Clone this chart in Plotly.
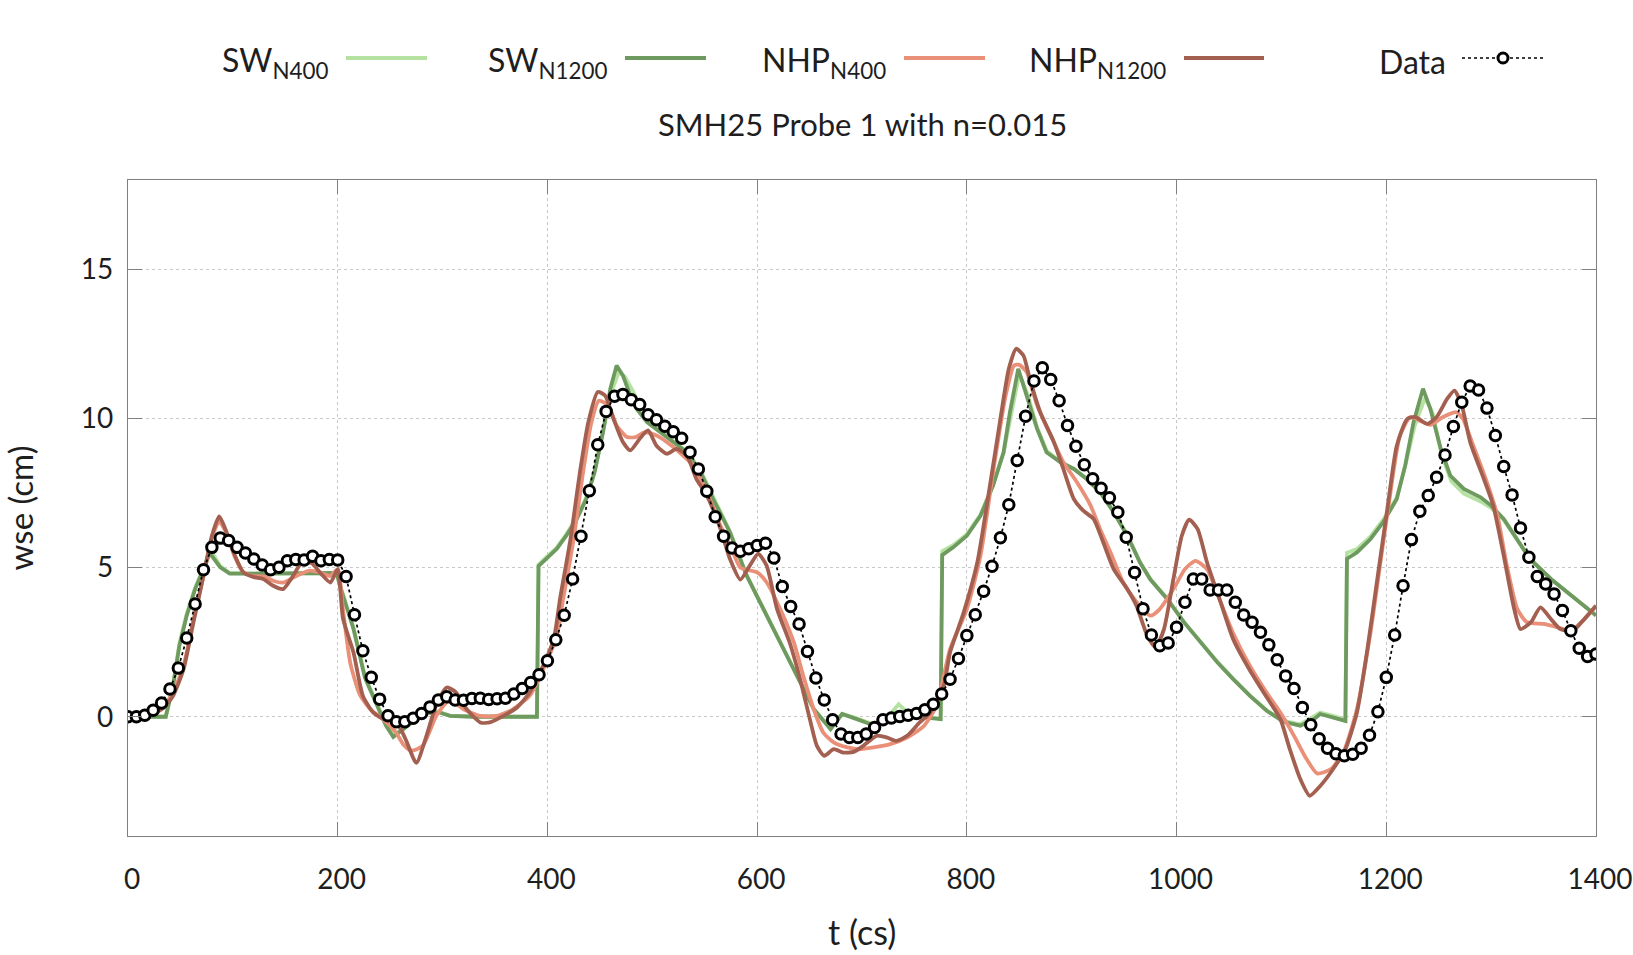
import plotly.graph_objects as go

# ---------------- data ----------------
data_t = list(range(0, 1401, 8))
data_v = [0, 0, 0.05, 0.22, 0.46, 0.93, 1.63, 2.64, 3.78, 4.93, 5.68, 5.99, 5.91, 5.68, 5.49, 5.29,
          5.09, 4.93, 5.01, 5.23, 5.27, 5.26, 5.38, 5.23, 5.27, 5.26, 4.70, 3.42, 2.21, 1.32, 0.59, 0.03,
          -0.17, -0.17, -0.05, 0.11, 0.33, 0.56, 0.67, 0.56, 0.55, 0.61, 0.62, 0.58, 0.60, 0.62, 0.76, 0.95,
          1.15, 1.41, 1.88, 2.58, 3.40, 4.62, 6.05, 7.58, 9.12, 10.24, 10.75, 10.81, 10.63, 10.47, 10.13, 9.96,
          9.74, 9.56, 9.34, 8.87, 8.31, 7.56, 6.71, 6.05, 5.66, 5.55, 5.63, 5.74, 5.82, 5.32, 4.37, 3.70,
          3.11, 2.19, 1.30, 0.56, -0.10, -0.58, -0.70, -0.70, -0.58, -0.36, -0.10, -0.04, 0.01, 0.05, 0.11, 0.23,
          0.42, 0.76, 1.26, 1.95, 2.72, 3.42, 4.21, 5.05, 6.00, 7.11, 8.59, 10.08, 11.26, 11.70, 11.31, 10.60,
          9.77, 9.07, 8.45, 7.98, 7.66, 7.34, 6.86, 6.02, 4.84, 3.62, 2.74, 2.38, 2.47, 3.00, 3.84, 4.62,
          4.62, 4.25, 4.25, 4.25, 3.84, 3.41, 3.17, 2.83, 2.41, 1.91, 1.37, 0.95, 0.31, -0.27, -0.74, -1.06,
          -1.24, -1.31, -1.26, -1.06, -0.62, 0.17, 1.32, 2.74, 4.39, 5.94, 6.89, 7.42, 8.03, 8.78, 9.73, 10.55,
          11.09, 10.96, 10.35, 9.43, 8.39, 7.44, 6.33, 5.35, 4.70, 4.45, 4.12, 3.56, 2.88, 2.30, 2.02, 2.10]

sw1200_t = [0, 36, 43, 49, 56, 64, 72, 78, 88, 97, 120, 150, 180, 199, 202, 208, 215, 226, 236, 246,
            253, 262, 275, 285, 297, 307, 330, 360, 390, 391.5, 399, 409, 418, 428, 437, 445, 453, 460, 466, 472,
            479, 485, 495, 507, 520, 533, 546, 558, 574, 590, 606, 622, 638, 654, 670, 681, 695, 708, 721, 733,
            746, 759, 775, 776.5, 787, 800, 813, 825, 835, 841, 849, 857, 867, 876, 889, 902, 914, 927, 940, 953,
            965, 975, 991, 1007, 1023, 1039, 1054, 1070, 1086, 1102, 1118, 1131, 1137, 1150, 1161, 1162.5, 1172, 1185, 1197, 1210,
            1218, 1226, 1235, 1242, 1252, 1261, 1274, 1290, 1300, 1312, 1325, 1337, 1357, 1376, 1398, 1400]
sw1200_v = [0, 0, 1.04, 2.38, 3.39, 4.28, 4.95, 5.49, 5.01, 4.80, 4.80, 4.80, 4.80, 4.82, 4.40, 3.70, 2.95, 1.30, 0.50, -0.30,
            -0.68, -0.45, -0.08, 0.12, 0.14, 0.03, 0, 0, 0, 5.05, 5.29, 5.63, 6.07, 6.63, 7.30, 8.20, 9.54, 11.00, 11.78, 11.44,
            10.77, 10.33, 9.88, 9.54, 9.21, 8.87, 8.20, 7.30, 6.19, 4.73, 3.61, 2.49, 1.37, 0.25, -0.42, 0.09, -0.08, -0.25, -0.20, 0.14,
            0.03, -0.02, -0.08, 5.42, 5.68, 6.07, 6.74, 7.75, 8.87, 10.20, 11.67, 10.77, 9.65, 8.87, 8.54, 8.31, 7.98, 7.53, 6.86, 6.07,
            5.18, 4.60, 3.95, 3.17, 2.49, 1.82, 1.26, 0.70, 0.20, -0.17, -0.30, -0.08, 0.09, -0.02, -0.14, 5.30, 5.51, 5.96, 6.52, 7.30,
            8.42, 9.88, 11.00, 10.33, 8.98, 8.09, 7.64, 7.36, 7.08, 6.63, 5.96, 5.29, 4.62, 4.06, 3.45, 3.40]

sw400_t = [0, 36, 43, 49, 56, 64, 72, 79, 88, 97, 120, 150, 180, 199, 202, 208, 215, 226, 236, 246,
           253, 262, 275, 285, 297, 307, 330, 360, 390, 391.5, 399, 409, 418, 428, 437, 445, 453, 461, 468, 474,
           481, 488, 497, 508, 520, 533, 546, 558, 574, 590, 606, 622, 638, 654, 670, 681, 695, 708, 721, 735,
           746, 759, 775, 776.5, 787, 800, 813, 825, 835, 842, 850, 858, 867, 876, 889, 902, 914, 927, 940, 953,
           965, 975, 991, 1007, 1023, 1039, 1054, 1070, 1086, 1102, 1118, 1131, 1137, 1150, 1161, 1162.5, 1172, 1185, 1197, 1210,
           1218, 1227, 1237, 1244, 1253, 1262, 1274, 1290, 1300, 1312, 1325, 1337, 1357, 1376, 1398, 1400]
sw400_v = [0, 0, 1.10, 2.45, 3.45, 4.32, 5.00, 5.58, 5.05, 4.82, 4.80, 4.80, 4.80, 4.82, 4.45, 3.75, 3.00, 1.35, 0.55, -0.25,
           -0.62, -0.40, -0.02, 0.22, 0.16, 0.04, 0, 0, 0, 5.10, 5.34, 5.68, 6.12, 6.68, 7.35, 8.25, 9.55, 10.90, 11.55, 11.40,
           10.95, 10.45, 9.95, 9.58, 9.24, 8.90, 8.25, 7.35, 6.22, 4.75, 3.63, 2.50, 1.38, 0.26, -0.38, 0.10, -0.05, -0.22, -0.15, 0.42,
           0.05, -0.01, -0.06, 5.55, 5.75, 6.12, 6.78, 7.78, 8.85, 10.10, 11.50, 10.80, 9.70, 8.92, 8.55, 8.32, 7.99, 7.55, 6.88, 6.09,
           5.20, 4.62, 3.97, 3.18, 2.50, 1.84, 1.27, 0.71, 0.21, -0.14, -0.26, 0.02, 0.14, 0.02, -0.10, 5.50, 5.62, 6.05, 6.60, 7.35,
           8.40, 9.75, 10.70, 10.20, 8.75, 7.90, 7.48, 7.22, 7.00, 6.60, 5.95, 5.30, 4.62, 4.06, 3.45, 3.40]

nhp400_t = [0, 16, 25, 34, 43, 53, 62, 72, 80, 87, 94, 102, 110, 120, 130, 139, 148, 161, 173, 183,
            193, 200, 205, 212, 221, 231, 244, 255, 263, 270, 281, 294, 304, 310, 320, 336, 352, 367, 383, 396,
            409, 415, 425, 434, 442, 449, 458, 466, 476, 484, 493, 504, 514, 526, 539, 552, 565, 577, 584, 600,
            609, 622, 635, 644, 654, 663, 673, 686, 698, 711, 727, 743, 759, 771, 784, 800, 813, 825, 837, 845,
            850, 857, 867, 880, 892, 905, 918, 927, 937, 949, 962, 975, 984, 997, 1008, 1018, 1029, 1042, 1054, 1070,
            1086, 1099, 1112, 1124, 1134, 1147, 1159, 1172, 1185, 1194, 1204, 1213, 1223, 1232, 1242, 1254, 1267, 1273, 1283, 1296,
            1306, 1315, 1325, 1334, 1350, 1363, 1376, 1389, 1400]
nhp400_v = [0, 0.05, 0.15, 0.37, 0.82, 1.71, 3.17, 4.73, 6.00, 6.55, 6.15, 5.35, 4.85, 4.72, 4.70, 4.55, 4.50, 4.73, 4.90, 4.84,
            4.72, 4.95, 3.60, 1.80, 0.75, 0.25, -0.10, -0.50, -0.95, -1.14, -0.98, 0.03, 0.48, 0.50, 0.25, 0.03, 0.03, 0.25, 0.70, 1.60,
            2.72, 3.95, 5.96, 8.20, 9.88, 10.60, 10.44, 9.77, 9.38, 9.38, 9.54, 9.43, 9.21, 8.87, 8.42, 7.53, 6.41, 5.52, 5.00, 4.84,
            4.51, 3.61, 2.49, 1.37, 0.25, -0.53, -0.86, -1.03, -1.09, -1.03, -0.92, -0.70, -0.31, 0.37, 2.27, 3.61, 5.40, 8.20, 10.77, 11.78,
            11.80, 11.56, 10.44, 9.43, 8.54, 7.86, 7.08, 6.30, 5.51, 4.51, 3.84, 3.39, 3.61, 4.28, 4.95, 5.23, 4.95, 3.84, 2.80, 1.70,
            0.80, 0.14, -0.64, -1.42, -1.90, -1.76, -1.20, 0.25, 2.83, 5.07, 7.53, 9.43, 10.05, 9.93, 9.79, 10.05, 10.21, 9.99, 9.09, 7.86,
            6.74, 5.07, 3.61, 3.17, 3.11, 3.00, 2.88, 3.28, 3.72]

nhp1200_t = [0, 16, 25, 34, 43, 53, 62, 72, 80, 87, 94, 102, 110, 120, 129, 138, 148, 157, 166, 175,
             184, 193, 200, 205, 215, 224, 234, 244, 253, 260, 266, 275, 285, 294, 304, 313, 323, 336, 345, 358,
             371, 383, 393, 406, 412, 422, 431, 439, 448, 455, 463, 472, 479, 488, 496, 504, 514, 523, 533, 542,
             552, 565, 574, 584, 593, 601, 609, 619, 631, 641, 651, 657, 664, 673, 682, 692, 701, 714, 724, 733,
             743, 755, 765, 778, 784, 797, 810, 822, 832, 840, 847, 854, 860, 870, 883, 892, 902, 911, 921, 930,
             940, 953, 962, 972, 980, 988, 997, 1005, 1012, 1020, 1029, 1042, 1054, 1070, 1086, 1099, 1108, 1118, 1127, 1137,
             1147, 1161, 1172, 1182, 1191, 1201, 1210, 1220, 1228, 1239, 1248, 1258, 1265, 1272, 1280, 1293, 1302, 1312, 1322, 1328,
             1338, 1347, 1357, 1366, 1378, 1389, 1400]
nhp1200_v = [0, 0.05, 0.12, 0.30, 0.70, 1.60, 3.10, 4.73, 6.07, 6.72, 6.19, 5.40, 4.84, 4.68, 4.62, 4.40, 4.28, 4.70, 5.18, 5.15,
             4.80, 4.50, 4.95, 3.30, 2.16, 0.70, 0.14, -0.08, -0.10, -0.40, -0.86, -1.55, -0.60, 0.40, 0.98, 0.81, 0.25, -0.19, -0.19, 0.03,
             0.31, 0.81, 1.49, 2.60, 3.95, 5.96, 8.20, 9.88, 10.89, 10.77, 9.99, 9.21, 8.93, 9.32, 9.60, 9.09, 8.82, 8.98, 8.76, 7.98,
             7.42, 6.30, 5.30, 4.60, 5.07, 5.46, 5.07, 3.61, 2.49, 1.26, -0.19, -0.98, -1.31, -1.09, -1.20, -1.18, -0.98, -0.64, -0.70, -0.81,
             -0.64, -0.19, 0.14, 1.04, 2.16, 3.50, 5.18, 7.75, 9.99, 11.67, 12.34, 12.11, 11.33, 10.21, 9.21, 8.31, 7.30, 6.91, 6.63, 5.85,
             4.95, 4.28, 3.70, 2.72, 2.33, 2.94, 4.62, 6.07, 6.61, 6.30, 5.18, 3.84, 2.60, 1.55, 0.65, -0.08, -1.09, -2.09, -2.65, -2.32,
             -1.87, -1.09, 0.14, 2.27, 4.51, 6.97, 9.09, 9.99, 10.05, 9.82, 10.05, 10.66, 10.94, 10.44, 9.21, 7.98, 7.08, 5.40, 3.61, 2.94,
             3.17, 3.67, 3.28, 2.94, 2.88, 3.28, 3.72]

x_ticks = [0, 200, 400, 600, 800, 1000, 1200, 1400]
y_ticks = [0, 5, 10, 15]

names = ["SW<sub>N400</sub>", "SW<sub>N1200</sub>", "NHP<sub>N400</sub>", "NHP<sub>N1200</sub>", "Data"]
colors = ["#b5e2a0", "#6e9a5f", "#ea8f78", "#a35f4f", "#000000"]
title_text = "SMH25 Probe 1 with n=0.015"

# ---------------- figure ----------------
W, H = 1633, 955
ML, MR, MT, MB = 128, 37, 180, 119
FONT = "Lato, 'Open Sans', sans-serif"
TXT = "#1e1e1e"

fig = go.Figure()
series = [(sw400_t, sw400_v, "linear"), (sw1200_t, sw1200_v, "linear"),
          (nhp400_t, nhp400_v, "spline"), (nhp1200_t, nhp1200_v, "spline")]
for (t, v, shp), nm, c in zip(series, names[:4], colors[:4]):
    fig.add_trace(go.Scatter(x=t, y=v, mode="lines", name=nm,
                             line=dict(color=c, width=3.8, shape=shp, smoothing=0.6),
                             showlegend=False))
fig.add_trace(go.Scatter(x=data_t, y=data_v, mode="lines+markers", name="Data",
                         line=dict(color="black", width=1.7, dash="dot"),
                         marker=dict(symbol="circle", size=10.5, color="white",
                                     line=dict(color="black", width=3)),
                         showlegend=False))

pw = W - ML - MR
ph = H - MT - MB
def px(xp):
    return (xp - ML) / pw
def py(yp):
    return (H - MB - yp) / ph

# legend (gnuplot style: text then sample), window pixel positions
leg = [(330, 346, 427), (609, 625, 706), (888, 904, 985), (1168, 1184, 1264), (1448, 1462, 1544)]
annotations = []
shapes = []
for i, (tx, l0, l1) in enumerate(leg):
    annotations.append(dict(text=names[i], xref="paper", yref="paper", x=px(tx), y=py(62),
                            xanchor="right", yanchor="middle", showarrow=False,
                            font=dict(family=FONT, size=32, color=TXT)))
    if i < 4:
        shapes.append(dict(type="line", xref="paper", yref="paper", x0=px(l0), x1=px(l1),
                           y0=py(58), y1=py(58), line=dict(color=colors[i], width=3.8)))
    else:
        shapes.append(dict(type="line", xref="paper", yref="paper", x0=px(l0), x1=px(l1),
                           y0=py(58), y1=py(58), line=dict(color="black", width=1.7, dash="dot")))
        cx = (l0 + l1) / 2
        shapes.append(dict(type="circle", xref="paper", yref="paper", x0=px(cx - 5), x1=px(cx + 5),
                           y0=py(58 + 5), y1=py(58 - 5), fillcolor="white",
                           line=dict(color="black", width=3)))

annotations.append(dict(text=title_text, xref="paper", yref="paper", x=0.5, y=py(124),
                        xanchor="center", yanchor="middle", showarrow=False,
                        font=dict(family=FONT, size=31, color=TXT)))
# x-axis title placed as text below the tick labels
annotations.append(dict(text="t (cs)", xref="paper", yref="paper", x=0.5, y=py(931),
                        xanchor="center", yanchor="middle", showarrow=False,
                        font=dict(family=FONT, size=34, color=TXT)))

axis_common = dict(showline=True, linecolor="#808080", linewidth=1.2, mirror="ticks",
                   ticks="inside", ticklen=14, tickcolor="#808080", tickwidth=1.2,
                   showgrid=True, gridcolor="#c8c8c8", griddash="dot", gridwidth=1,
                   zeroline=False, tickfont=dict(family=FONT, size=28, color=TXT))

fig.update_layout(
    width=W, height=H,
    margin=dict(l=ML, r=MR, t=MT, b=MB, autoexpand=False),
    plot_bgcolor="white", paper_bgcolor="white",
    showlegend=False,
    xaxis=dict(range=[0, 1400], tickvals=x_ticks, ticktext=[str(v) for v in x_ticks],
               ticklabelstandoff=18, ticklabelshift=4,
               **axis_common),
    yaxis=dict(range=[-4, 18], tickvals=y_ticks, ticktext=[str(v) for v in y_ticks],
               ticklabelstandoff=8,
               title=dict(text="wse (cm)", font=dict(family=FONT, size=33, color=TXT), standoff=41),
               **axis_common),
    annotations=annotations, shapes=shapes,
)

# the page body keeps its default 8px margin otherwise; place the figure at the window origin
fig.write_html("out.html", config={"displayModeBar": False},
               post_script="document.body.style.margin='0';")
